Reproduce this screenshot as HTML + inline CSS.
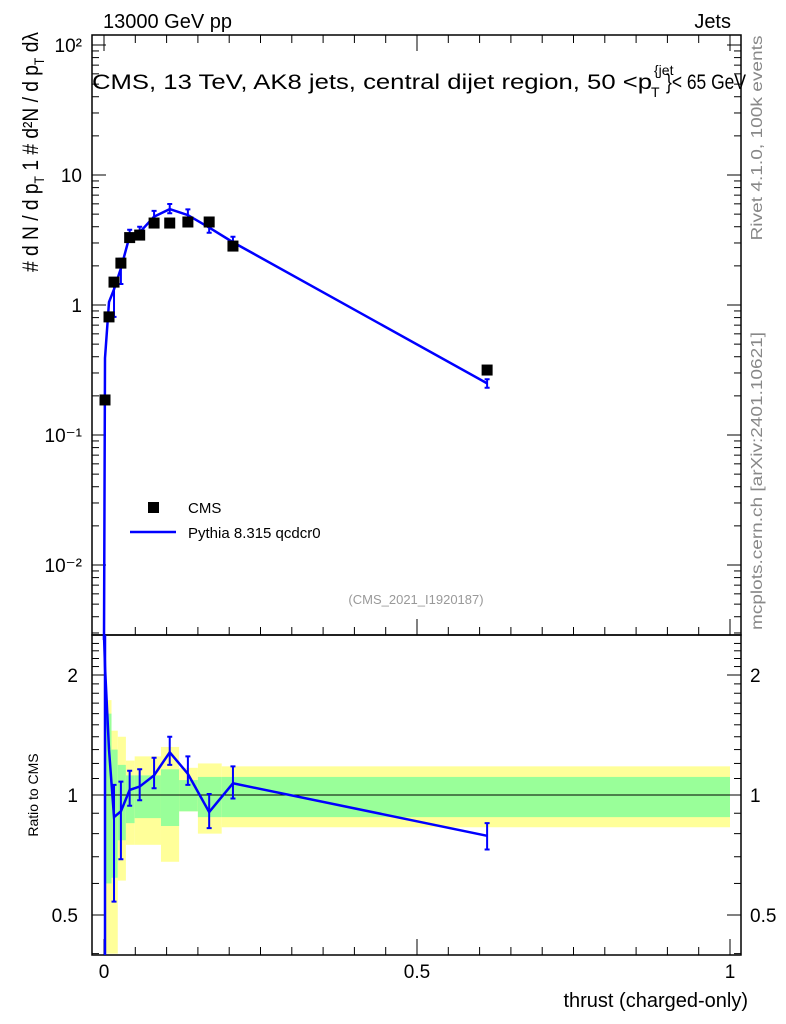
<!DOCTYPE html>
<html><head><meta charset="utf-8"><style>
html,body{margin:0;padding:0;background:#fff;}
svg{display:block;font-family:"Liberation Sans",sans-serif;}
</style></head><body>
<svg id="chart" width="786" height="1024" xmlns="http://www.w3.org/2000/svg">
<g id="bands"></g>
<g id="grid"></g>
<g id="marks"></g>
<text x="103" y="28" font-size="20">13000 GeV pp</text>
<text x="731" y="28" font-size="20" text-anchor="end">Jets</text>
<text x="92" y="89" font-size="21" textLength="560" lengthAdjust="spacingAndGlyphs">CMS, 13 TeV, AK8 jets, central dijet region, 50 &lt;p</text>
<text x="654" y="75" font-size="14">{jet</text>
<text x="651" y="97" font-size="14">T</text>
<text x="666" y="89" font-size="21" textLength="80" lengthAdjust="spacingAndGlyphs">}&lt; 65 GeV</text>
<text x="416" y="604" font-size="13" fill="#999" text-anchor="middle">(CMS_2021_I1920187)</text>
<rect x="148" y="502" width="11" height="11" fill="#000"/>
<text x="188" y="513" font-size="15">CMS</text>
<line x1="130" y1="532" x2="176" y2="532" stroke="#00f" stroke-width="2.5"/>
<text x="188" y="538" font-size="15">Pythia 8.315 qcdcr0</text>
<text transform="translate(38,152) rotate(-90)" font-size="22" text-anchor="middle" textLength="240" lengthAdjust="spacingAndGlyphs"># d N / d p<tspan font-size="14" dy="6">T</tspan><tspan dy="-6">  1  #  d²N / d p</tspan><tspan font-size="14" dy="6">T</tspan><tspan dy="-6"> dλ</tspan></text>
<text transform="translate(38,795) rotate(-90)" font-size="14" text-anchor="middle">Ratio to CMS</text>
<text transform="translate(762,138) rotate(-90)" font-size="16" fill="#888" text-anchor="middle" textLength="205" lengthAdjust="spacingAndGlyphs">Rivet 4.1.0,  100k events</text>
<text transform="translate(762,481) rotate(-90)" font-size="16" fill="#888" text-anchor="middle" textLength="298" lengthAdjust="spacingAndGlyphs">mcplots.cern.ch [arXiv:2401.10621]</text>
<text x="748" y="1007" font-size="20" text-anchor="end">thrust (charged-only)</text>
</svg>
<script>
const dataX=[0.0016,0.008,0.016,0.027,0.041,0.057,0.080,0.105,0.134,0.168,0.206,0.612];
const dataY=[0.186,0.81,1.5,2.1,3.3,3.45,4.27,4.27,4.35,4.35,2.84,0.316];
const ratio=[2.1,1.3,0.88,0.91,1.03,1.05,1.12,1.28,1.13,0.906,1.07,0.79];
const ratioErrLo=[0.4,0.1,0.34,0.22,0.09,0.08,0.08,0.09,0.07,0.08,0.09,0.06];
const ratioErrHi=[0.4,0.1,0.18,0.17,0.12,0.11,0.12,0.12,0.12,0.1,0.11,0.06];
const bandEdges=[0.001,0.012,0.022,0.035,0.049,0.091,0.120,0.150,0.188,1.0];
const yellowHi=[1.73,1.45,1.40,1.22,1.25,1.32,1.17,1.2,1.18];
const yellowLo=[0.4,0.4,0.61,0.75,0.75,0.68,0.91,0.8,0.83];
const greenHi=[1.6,1.3,1.19,1.12,1.12,1.16,1.09,1.11,1.11];
const greenLo=[0.6,0.62,0.77,0.85,0.875,0.836,0.91,0.88,0.88];
const yTicks=[2,1,0,-1,-2];
const yTickLabels=["10²","10","1","10⁻¹","10⁻²"];
const rTicks=[2,1,0.5];
const rTickLabels=["2","1","0.5"];
const xTicks=[0,0.5,1];
const xTickLabels=["0","0.5","1"];

const L=92,R=741,T=35,M=635,B=955;
const sx=v=>104+v*626;
const sy=v=>305-Math.log10(v)*130;
const sr=v=>795-Math.log2(v)*120;
const NS="http://www.w3.org/2000/svg";
function mk(parent,tag,attrs){const e=document.createElementNS(NS,tag);for(const k in attrs)e.setAttribute(k,attrs[k]);parent.appendChild(e);return e;}
const bands=document.getElementById('bands'),grid=document.getElementById('grid'),marks=document.getElementById('marks');
const clip=(y,a,b)=>Math.max(a,Math.min(b,y));
for(let i=0;i<yellowHi.length;i++){
  const x0=sx(bandEdges[i]),x1=sx(bandEdges[i+1]);
  let r=mk(bands,'rect',{x:x0,y:clip(sr(yellowHi[i]),M,B),width:x1-x0,height:clip(sr(yellowLo[i]),M,B)-clip(sr(yellowHi[i]),M,B),fill:'#ffff99'});
  
  
  let g=mk(bands,'rect',{x:x0,y:clip(sr(greenHi[i]),M,B),width:x1-x0,height:clip(sr(greenLo[i]),M,B)-clip(sr(greenHi[i]),M,B),fill:'#99ff99'});
  
  
}
mk(grid,'rect',{x:L,y:T,width:R-L,height:M-T,fill:'none',stroke:'#000','stroke-width':1.5});
mk(grid,'rect',{x:L,y:M,width:R-L,height:B-M,fill:'none',stroke:'#000','stroke-width':1.5});
mk(grid,'line',{x1:L,x2:R,y1:sr(1),y2:sr(1),stroke:'#000','stroke-width':1});
for(let d=-3;d<=2;d++){for(let k=1;k<10;k++){const v=k*Math.pow(10,d);const y=sy(v);if(y<T||y>M)continue;const len=k===1?14:7;
  mk(grid,'line',{x1:L,x2:L+len,y1:y,y2:y,stroke:'#000'});mk(grid,'line',{x1:R,x2:R-len,y1:y,y2:y,stroke:'#000'});}}
yTicks.forEach((d,i)=>{const t=mk(grid,'text',{x:82,y:sy(Math.pow(10,d))+7,'font-size':19,'text-anchor':'end'});t.textContent=yTickLabels[i];
  
  });
for(let v=0.4;v<=2.5;v+=0.1){const y=sr(v);if(y<M||y>B)continue;const maj=Math.abs(v-1)<1e-6||Math.abs(v-2)<1e-6||Math.abs(v-0.5)<1e-6;const len=maj?14:7;
  mk(grid,'line',{x1:L,x2:L+len,y1:y,y2:y,stroke:'#000'});mk(grid,'line',{x1:R,x2:R-len,y1:y,y2:y,stroke:'#000'});}
rTicks.forEach((v,i)=>{const t=mk(grid,'text',{x:78,y:sr(v)+7,'font-size':19,'text-anchor':'end'});t.textContent=rTickLabels[i];
  
  
  const t2=mk(grid,'text',{x:750,y:sr(v)+7,'font-size':19});t2.textContent=rTickLabels[i];
  
  });
for(let v=0;v<=1.0001;v+=0.05){const x=sx(v);const maj=Math.abs(v*2-Math.round(v*2))<1e-6;const len=maj?16:8;
  mk(grid,'line',{x1:x,x2:x,y1:B,y2:B-len,stroke:'#000'});mk(grid,'line',{x1:x,x2:x,y1:M,y2:M-len,stroke:'#000'});
  mk(grid,'line',{x1:x,x2:x,y1:T,y2:T+len,stroke:'#000'});}
xTicks.forEach((v,i)=>{const t=mk(grid,'text',{x:sx(v),y:978,'font-size':19,'text-anchor':'middle'});t.textContent=xTickLabels[i];
  
  });
const mcY=dataY.map((v,i)=>v*ratio[i]);
let pts=[[sx(0),M+5]].concat(dataX.map((x,i)=>[sx(x),sy(mcY[i])]));
const mcl=mk(marks,'polyline',{points:pts.map(p=>p.join(',')).join(' '),fill:'none',stroke:'#00f','stroke-width':2.5});


dataX.forEach((x,i)=>{if(i<2)return;const X=sx(x);const y1=sy(dataY[i]*(ratio[i]+ratioErrHi[i])),y2=sy(dataY[i]*(ratio[i]-ratioErrLo[i]));
  const e=mk(marks,'path',{d:`M${X},${y1}V${y2}M${X-2.5},${y1}h5M${X-2.5},${y2}h5`,stroke:'#00f','stroke-width':2,fill:'none'});
  
  });
dataX.forEach((x,i)=>{const r=mk(marks,'rect',{x:sx(x)-5.5,y:sy(dataY[i])-5.5,width:11,height:11,fill:'#000'});
  
  });
let rp=[[sx(0),M]].concat(dataX.map((x,i)=>[sx(x),clip(sr(ratio[i]),M,B)]));
const rl=mk(marks,'polyline',{points:rp.map(p=>p.join(',')).join(' '),fill:'none',stroke:'#00f','stroke-width':2.5});


dataX.forEach((x,i)=>{if(i<2)return;const X=sx(x);const y1=sr(ratio[i]+ratioErrHi[i]),y2=sr(ratio[i]-ratioErrLo[i]);
  const e=mk(marks,'path',{d:`M${X},${y1}V${y2}M${X-2.5},${y1}h5M${X-2.5},${y2}h5`,stroke:'#00f','stroke-width':2,fill:'none'});
  
  });
mk(marks,'line',{x1:sx(0.0016),x2:sx(0.0016),y1:M,y2:B,stroke:'#00f','stroke-width':2.5});
</script>
</body></html>
